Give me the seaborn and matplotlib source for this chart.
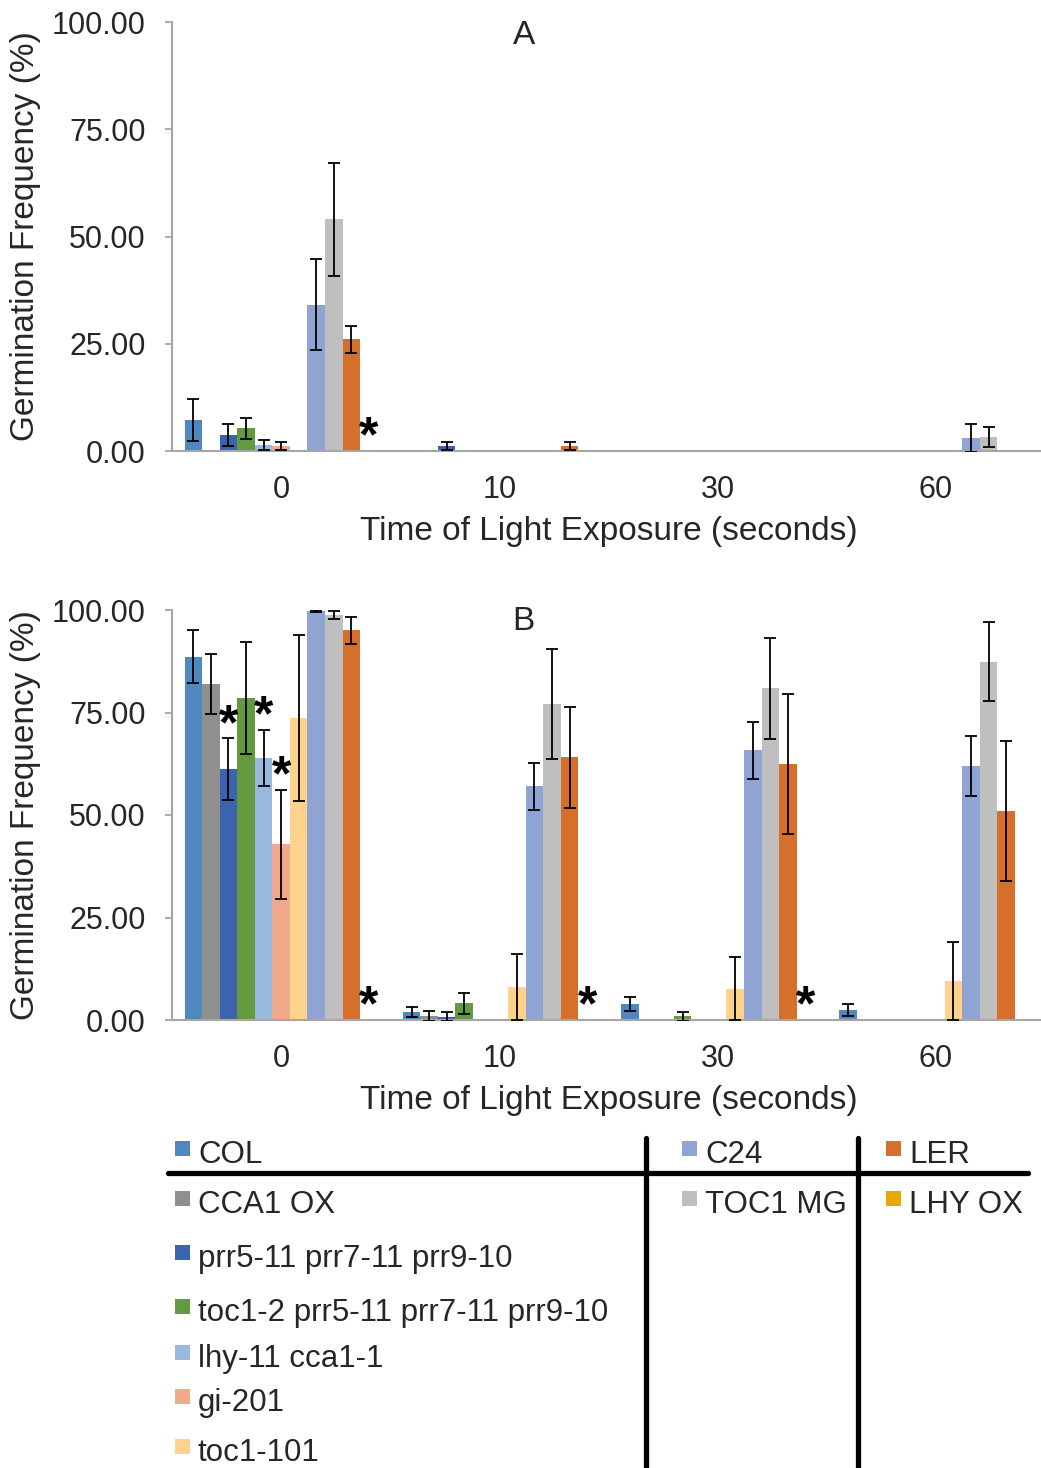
import numpy as np
import pandas as pd
import matplotlib
matplotlib.use("Agg")
import matplotlib.pyplot as plt
from matplotlib.lines import Line2D
from matplotlib.patches import Rectangle
import seaborn as sns

# ---------------- data ----------------
times = ["0", "10", "30", "60"]
genotypes = ["COL", "CCA1 OX", "prr5-11 prr7-11 prr9-10",
             "toc1-2 prr5-11 prr7-11 prr9-10", "lhy-11 cca1-1", "gi-201",
             "toc1-101", "C24", "TOC1 MG", "LER", "LHY OX"]
colors = ["#4F87BF", "#8F8F8F", "#3C63AD", "#649A3F", "#9AB9DF", "#F0A98B",
          "#FFD38B", "#90A4D4", "#BFBFBF", "#D56F2B", "#E3AA00"]

# Panel A: mean germination (%) per genotype at 0, 10, 30, 60 s
a_COL      = [7.2, 0.0, 0.0, 0.0]
a_CCA1OX   = [0.0, 0.0, 0.0, 0.0]
a_prr      = [3.7, 1.1, 0.0, 0.0]
a_toc12prr = [5.3, 0.0, 0.0, 0.0]
a_lhycca   = [1.4, 0.0, 0.0, 0.0]
a_gi       = [1.2, 0.0, 0.0, 0.0]
a_toc1101  = [0.0, 0.0, 0.0, 0.0]
a_C24      = [34.1, 0.0, 0.0, 3.0]
a_TOC1MG   = [54.0, 0.0, 0.0, 3.3]
a_LER      = [26.0, 1.1, 0.0, 0.0]
a_LHYOX    = [0.0, 0.0, 0.0, 0.0]
# Panel A error (+/-)
ae_COL      = [4.9, 0.0, 0.0, 0.0]
ae_CCA1OX   = [0.0, 0.0, 0.0, 0.0]
ae_prr      = [2.5, 0.9, 0.0, 0.0]
ae_toc12prr = [2.5, 0.0, 0.0, 0.0]
ae_lhycca   = [1.2, 0.0, 0.0, 0.0]
ae_gi       = [0.9, 0.0, 0.0, 0.0]
ae_toc1101  = [0.0, 0.0, 0.0, 0.0]
ae_C24      = [10.6, 0.0, 0.0, 3.3]
ae_TOC1MG   = [13.2, 0.0, 0.0, 2.3]
ae_LER      = [3.2, 0.9, 0.0, 0.0]
ae_LHYOX    = [0.0, 0.0, 0.0, 0.0]

# Panel B
b_COL      = [88.6, 2.0, 3.9, 2.4]
b_CCA1OX   = [81.9, 1.0, 0.0, 0.0]
b_prr      = [61.2, 0.8, 0.0, 0.0]
b_toc12prr = [78.5, 4.1, 0.9, 0.0]
b_lhycca   = [63.9, 0.0, 0.0, 0.0]
b_gi       = [42.9, 0.0, 0.0, 0.0]
b_toc1101  = [73.7, 8.0, 7.6, 9.5]
b_C24      = [99.8, 57.0, 65.8, 62.0]
b_TOC1MG   = [98.8, 77.1, 80.9, 87.4]
b_LER      = [95.1, 64.1, 62.5, 51.0]
b_LHYOX    = [0.0, 0.0, 0.0, 0.0]
be_COL      = [6.5, 1.2, 1.8, 1.5]
be_CCA1OX   = [7.3, 1.2, 0.0, 0.0]
be_prr      = [7.5, 1.1, 0.0, 0.0]
be_toc12prr = [13.7, 2.6, 1.1, 0.0]
be_lhycca   = [6.9, 0.0, 0.0, 0.0]
be_gi       = [13.3, 0.0, 0.0, 0.0]
be_toc1101  = [20.3, 8.0, 7.7, 9.5]
be_C24      = [0.2, 5.7, 6.9, 7.3]
be_TOC1MG   = [1.0, 13.4, 12.3, 9.7]
be_LER      = [3.3, 12.3, 17.1, 17.0]
be_LHYOX    = [0.0, 0.0, 0.0, 0.0]

# significance stars: (genotype, time)
stars_A = [("LHY OX", "0")]
stars_B = [("prr5-11 prr7-11 prr9-10", "0"), ("lhy-11 cca1-1", "0"),
           ("gi-201", "0"), ("LHY OX", "0"), ("LHY OX", "10"), ("LHY OX", "30")]

panelA_vals = [a_COL, a_CCA1OX, a_prr, a_toc12prr, a_lhycca, a_gi, a_toc1101,
               a_C24, a_TOC1MG, a_LER, a_LHYOX]
panelA_errs = [ae_COL, ae_CCA1OX, ae_prr, ae_toc12prr, ae_lhycca, ae_gi,
               ae_toc1101, ae_C24, ae_TOC1MG, ae_LER, ae_LHYOX]
panelB_vals = [b_COL, b_CCA1OX, b_prr, b_toc12prr, b_lhycca, b_gi, b_toc1101,
               b_C24, b_TOC1MG, b_LER, b_LHYOX]
panelB_errs = [be_COL, be_CCA1OX, be_prr, be_toc12prr, be_lhycca, be_gi,
               be_toc1101, be_C24, be_TOC1MG, be_LER, be_LHYOX]


def long_df(vals, errs):
    rows = []
    for g, v, e in zip(genotypes, vals, errs):
        for t, vv, ee in zip(times, v, e):
            rows.append({"time": t, "genotype": g, "value": vv, "err": ee})
    return pd.DataFrame(rows)


# ---------------- style ----------------
sns.set_style("white")
plt.rcParams["font.family"] = ["Liberation Sans", "DejaVu Sans"]

W, H = 1041, 1468
fig = plt.figure(figsize=(W / 100, H / 100), dpi=100)


def fx(x):
    return x / W


def fy(y):
    return 1 - y / H


GRAY = "#A6A6A6"


def draw_panel(ax, vals, errs, stars, letter, letter_y):
    df = long_df(vals, errs)
    sns.barplot(data=df, x="time", y="value", hue="genotype", order=times,
                hue_order=genotypes, palette=colors, width=0.885,
                errorbar=None, saturation=1, linewidth=0, legend=False, ax=ax)
    centers = {}
    for gi_, (g, cont) in enumerate(zip(genotypes, ax.containers)):
        for ti, bar in enumerate(cont.patches):
            cx = bar.get_x() + bar.get_width() / 2
            centers[(g, times[ti])] = cx
    xs, ys, es = [], [], []
    for _, r in df.iterrows():
        if r["err"] > 0:
            xs.append(centers[(r["genotype"], r["time"])])
            ys.append(r["value"])
            es.append(r["err"])
    ax.errorbar(xs, ys, yerr=es, fmt="none", ecolor="black", elinewidth=1.3,
                capsize=4.6, capthick=1.3, zorder=5)
    lookup = df.set_index(["genotype", "time"])
    for g, t in stars:
        v = lookup.loc[(g, t), "value"] + lookup.loc[(g, t), "err"]
        ax.text(centers[(g, t)], v + 3.0, "*", ha="center", va="center",
                fontsize=36, fontweight="bold", color="black", zorder=6)

    ax.set_xlim(-0.5, 3.5)
    ax.set_ylim(0, 100)
    ax.set_yticks([0, 25, 50, 75, 100])
    ax.set_yticklabels(["%.2f" % v for v in [0, 25, 50, 75, 100]])
    ax.set_xticks([-0.5, 0.5, 1.5, 2.5, 3.5])
    ax.set_xticklabels([""] * 5)
    ax.set_xticks([0, 1, 2, 3], labels=times, minor=True)
    ax.tick_params(axis="x", which="major", length=9, width=1.3, color=GRAY,
                   direction="out")
    ax.tick_params(axis="x", which="minor", length=0, pad=17, labelsize=22)
    ax.tick_params(axis="y", which="major", length=5, width=1.3, color=GRAY,
                   direction="out", pad=14, labelsize=22, left=True)
    for s in ["top", "right"]:
        ax.spines[s].set_visible(False)
    for s in ["left", "bottom"]:
        ax.spines[s].set_color(GRAY)
        ax.spines[s].set_linewidth(1.5)
    ax.set_xlabel("Time of Light Exposure (seconds)", fontsize=24)
    ax.xaxis.set_label_coords(0.5, letter_y[1])
    ax.xaxis.label.set_va("center")
    ax.set_ylabel("Germination Frequency (%)", fontsize=24)
    ax.yaxis.set_label_coords(-0.168, 0.5)
    ax.yaxis.label.set_va("center")
    ax.text(0.403, letter_y[0], letter, transform=ax.transAxes, ha="center",
            va="center", fontsize=24)


axA = fig.add_axes([fx(172), fy(451), (1045 - 172) / W, (451 - 22) / H])
axB = fig.add_axes([fx(172), fy(1020), (1045 - 172) / W, (1020 - 610) / H])
draw_panel(axA, panelA_vals, panelA_errs, stars_A, "A",
           ((451 - 36) / 429, (451 - 531) / 429))
draw_panel(axB, panelB_vals, panelB_errs, stars_B, "B",
           ((1020 - 622) / 410, (1020 - 1101) / 410))

# ---------------- legend table ----------------
col_x = [175, 682, 886]
rows_y = [1155, 1205, 1259, 1313, 1359, 1403, 1453]
layout = [(0, 0), (0, 1), (0, 2), (0, 3), (0, 4), (0, 5), (0, 6),
          (1, 0), (1, 1), (2, 0), (2, 1)]
for g, c, (ci, ri) in zip(genotypes, colors, layout):
    x0 = col_x[ci]
    y0 = rows_y[ri]
    fig.add_artist(Rectangle((fx(x0), fy(y0 + 1)), 15 / W, 15 / H,
                             transform=fig.transFigure, facecolor=c,
                             edgecolor="none"))
    fig.text(fx(x0 + 23), fy(y0), g, ha="left", va="center", fontsize=22.5)

fig.add_artist(Line2D([fx(168), fx(1028)], [fy(1173), fy(1173)],
                      transform=fig.transFigure, color="black", lw=3.8))
for xv in [646, 858]:
    fig.add_artist(Line2D([fx(xv), fx(xv)], [fy(1138), fy(1468)],
                          transform=fig.transFigure, color="black", lw=3.8))

fig.savefig("out.png", dpi=100)
